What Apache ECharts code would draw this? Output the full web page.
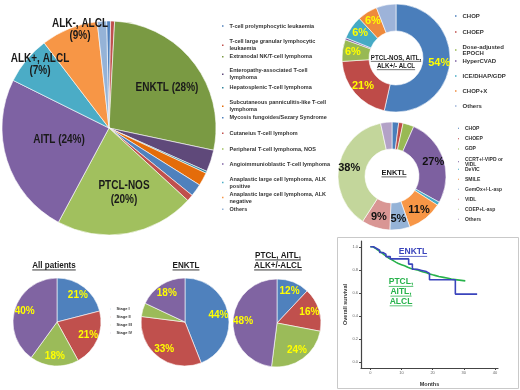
<!DOCTYPE html>
<html>
<head>
<meta charset="utf-8">
<script src="https://cdn.jsdelivr.net/npm/echarts@6/dist/echarts.min.js"></script>
<style>
html, body { margin: 0; padding: 0; background: #fff; }
#chart { width: 520px; height: 390px; }
</style>
</head>
<body>
<div id="chart"></div>
<script>
// ---- data ----
const subtypeNames = [
	'T-cell prolymphocytic leukaemia', 'T-cell large granular lymphocytic leukaemia',
	'Extranodal NK/T-cell lymphoma', 'Enteropathy-associated T-cell lymphoma',
	'Hepatosplenic T-cell lymphoma', 'Subcutaneous panniculitis-like T-cell lymphoma',
	'Mycosis fungoides/Sezary Syndrome', 'Cutaneius T-cell lymphom',
	'Peripheral T-cell lymphoma, NOS', 'Angioimmunioblastic T-cell lymphoma',
	'Anaplastic large cell lymphoma, ALK positive', 'Anaplastic large cell lymphoma, ALK negative',
	'Others'
];
const subtypeLegendText = [
	'T-cell prolymphocytic leukaemia', 'T-cell large granular lymphocytic\nleukaemia',
	'Extranodal NK/T-cell lymphoma', 'Enteropathy-associated T-cell\nlymphoma',
	'Hepatosplenic T-cell lymphoma', 'Subcutaneous panniculitis-like T-cell\nlymphoma',
	'Mycosis fungoides/Sezary Syndrome', 'Cutaneius T-cell lymphom',
	'Peripheral T-cell lymphoma, NOS', 'Angioimmunioblastic T-cell lymphoma',
	'Anaplastic large cell lymphoma, ALK\npositive', 'Anaplastic large cell lymphoma, ALK\nnegative',
	'Others'
];
const subtypeShare = [0.6, 0.6, 27.5, 3.3, 0.3, 2, 1.9, 1, 21, 24.5, 7.3, 8.6, 1.4];
const subtypeLabels = ['ENKTL (28%)', 'PTCL-NOS\n(20%)', 'AITL (24%)', 'ALK+, ALCL\n(7%)', 'ALK-, ALCL\n(9%)'];

const ptclRegimens = ['CHOP', 'CHOEP', 'Dose-adjusted EPOCH', 'HyperCVAD', 'ICE/DHAP/GDP', 'CHOP+X', 'Others'];
const ptclRegimenLegend = ['CHOP', 'CHOEP', 'Dose-adjusted\nEPOCH', 'HyperCVAD', 'ICE/DHAP/GDP', 'CHOP+X', 'Others'];
const ptclRegimenShare = [53.5, 20.5, 6.5, 0.6, 7, 6, 5.9];
const ptclRegimenLabels = ['54%', '21%', '6%', '', '6%', '6%', ''];

const enktlRegimens = ['CHOP', 'CHOEP', 'GDP', 'CCRT+/-VIPD or VIDL', 'DeVIC', 'SMILE', 'GemOx+/-L-asp', 'VIDL', 'COEP+L-asp', 'Others'];
const enktlRegimenLegend = ['CHOP', 'CHOEP', 'GDP', 'CCRT+/-VIPD or\nVIDL', 'DeVIC', 'SMILE', 'GemOx+/-L-asp', 'VIDL', 'COEP+L-asp', 'Others'];
const enktlRegimenShare = [2, 1.3, 3.3, 26.5, 1, 10.6, 6, 8.5, 37.5, 3.4];
const enktlRegimenLabels = ['', '', '', '27%', '', '11%', '5%', '9%', '38%', ''];

const stages = ['Stage I', 'Stage II', 'Stage III', 'Stage IV'];
const stageAll = [21, 21, 18, 40];
const stageENKTL = [44, 33, 5, 18];
const stagePTCL = [12, 16, 24, 48];
const stageLabelsAll = ['21%', '21%', '18%', '40%'];
const stageLabelsENKTL = ['44%', '33%', '', '18%'];
const stageLabelsPTCL = ['12%', '16%', '24%', '48%'];
const stageTitles = [['All patients'], ['ENKTL'], ['PTCL, AITL,', 'ALK+/-ALCL']];

const monthTicks = [0, 10, 20, 30, 40];
const survivalTicks = [0, 0.2, 0.4, 0.6, 0.8, 1.0];
// [month, survival] steps
const enktlSurvival = [[0, 1], [1, 0.985], [2, 0.97], [3, 0.95], [4, 0.935], [5, 0.915], [6.4, 0.895],
	[12.3, 0.85], [13.5, 0.805], [15, 0.795], [16.5, 0.785], [18, 0.77], [19, 0.715], [27.3, 0.59], [34.3, 0.59]];
const ptclSurvival = [[0, 1], [0.8, 0.99], [1.5, 0.975], [2.2, 0.96], [3, 0.945], [3.8, 0.93], [4.5, 0.915],
	[5.3, 0.9], [6, 0.89], [6.8, 0.878], [7.5, 0.865], [8.3, 0.855], [9, 0.845], [10, 0.835], [11, 0.822],
	[12, 0.812], [13, 0.805], [14, 0.8], [15, 0.79], [16, 0.782], [17, 0.775], [18, 0.765], [19, 0.757],
	[20, 0.75], [21, 0.742], [22, 0.735], [23.5, 0.728], [25, 0.72], [26, 0.705], [30.5, 0.705]];

// ---- styles ----
const SANS = '"Liberation Sans", Arial, sans-serif';
const subtypeColors = ['#4F81BD', '#C0504D', '#7A9A43', '#5F497A', '#31859C', '#E46C0A', '#4F81BD',
	'#C0504D', '#A1C05E', '#7E62A3', '#4BACC6', '#F79646', '#95B3D7'];
const ptclRegimenColors = ['#4A7EBB', '#BE4B48', '#98B954', '#7D60A0', '#46AAC5', '#EE8A3C', '#9DB3D9'];
const enktlRegimenColors = ['#4A7EBB', '#BE4B48', '#98B954', '#7D60A0', '#46AAC5', '#F79646', '#95B3D7',
	'#D99694', '#C3D69B', '#B3A2C7'];
const stageColors = ['#4F81BD', '#C0504D', '#9BBB59', '#8064A2'];

const measure = document.createElement('canvas').getContext('2d');

// text with a rule under each line; sx squeezes it the way the figure is squeezed
const underlined = (lines, cx, cy, size, lineH, color, sx) => {
	const font = `bold ${size}px ${SANS}`;
	measure.font = font;
	const out = [];
	lines.forEach((t, i) => {
		const y = cy + i * lineH;
		const w = measure.measureText(t).width * sx;
		out.push({
			type: 'text', x: cx, y, scaleX: sx, z: 100, silent: true,
			style: { text: t, font, fill: color, align: 'center', verticalAlign: 'middle', textAlign: 'center', textVerticalAlign: 'middle' }
		});
		out.push({
			type: 'line', z: 100, silent: true,
			shape: { x1: cx - w / 2, y1: y + size * 0.52, x2: cx + w / 2, y2: y + size * 0.52 },
			style: { stroke: color, lineWidth: Math.max(0.6, size / 11) }
		});
	});
	return out;
};

// one legend component per entry so the rows sit where they do in the figure
const legendColumn = (names, texts, colors, left, rows, fontSize, lineH, marker) =>
	names.map((name, i) => ({
		data: [{ name, itemStyle: { color: colors[i] } }],
		orient: 'vertical', left, top: rows[i] - lineH / 2,
		padding: 0, itemGap: 0, itemWidth: marker, itemHeight: marker,
		icon: 'rect', selectedMode: false,
		formatter: () => texts[i],
		textStyle: { fontSize, lineHeight: lineH, color: '#333', fontWeight: 'bold', fontFamily: SANS }
	}));

const pieSeries = (names, values, colors, center, radius, extra) => Object.assign({
	type: 'pie', center, radius, startAngle: 90, silent: true,
	data: names.map((name, i) => ({ name, value: values[i], itemStyle: { color: colors[i] } })),
	label: { show: false }, labelLine: { show: false },
	itemStyle: { borderColor: '#fff', borderWidth: 0.6 },
	emphasis: { disabled: true }
}, extra);

const labelOverlay = (names, values, labels, center, radius, color, size) => ({
	type: 'pie', center, radius, startAngle: 90, silent: true,
	data: names.map((name, i) => ({ name, value: values[i] })),
	itemStyle: { color: 'rgba(0,0,0,0)', borderWidth: 0 },
	labelLine: { show: false },
	label: {
		show: true, position: 'inside', formatter: (p) => labels[p.dataIndex],
		color, fontSize: size, fontWeight: 'bold', fontFamily: SANS
	},
	emphasis: { disabled: true }
});

const stageCenters = [[57, 322], [185, 322], [277, 323]];
const stageSets = [stageAll, stageENKTL, stagePTCL];
const stageLabelSets = [stageLabelsAll, stageLabelsENKTL, stageLabelsPTCL];
const stageTitlePos = [[54, 265], [186, 265], [278, 255]];

// top of the first line of each callout on the big pie
const bigLabelPos = [[167, 81], [124, 178], [59, 133], [40, 53], [80, 18]];
const bigLabelLineH = [14, 14.5, 14, 12, 12];

const graphics = [
	{ type: 'rect', z: 100, silent: true, shape: { x: 337.5, y: 237.5, width: 181, height: 151 }, style: { fill: 'none', stroke: '#c9c9c9', lineWidth: 1 } }
];
subtypeLabels.forEach((t, i) => {
	graphics.push({
		type: 'text', z: 100, silent: true, x: bigLabelPos[i][0], y: bigLabelPos[i][1], scaleX: 0.8,
		style: {
			text: t, font: `bold 12.5px ${SANS}`, fill: '#1a1a1a', lineHeight: bigLabelLineH[i],
			align: 'center', verticalAlign: 'top', textAlign: 'center', textVerticalAlign: 'top'
		}
	});
});

graphics.push(...underlined(['PTCL-NOS, AITL,', 'ALK+/- ALCL'], 396, 58, 6.5, 8.3, '#1a1a1a', 0.95));
graphics.push(...underlined(['ENKTL'], 394, 173, 7.5, 9, '#1a1a1a', 1));
stageTitles.forEach((lines, i) => {
	graphics.push(...underlined(lines, stageTitlePos[i][0], stageTitlePos[i][1], 9.5, 10, '#1a1a1a', 0.85));
});
graphics.push(...underlined(['ENKTL'], 413, 252, 8.5, 9.7, '#3A44BC', 1));
graphics.push(...underlined(['PTCL,', 'AITL,', 'ALCL'], 401, 282, 8.5, 9.7, '#27B24B', 1));

const series = [
	pieSeries(subtypeNames, subtypeShare, subtypeColors, [109, 128], 107, { startAngle: 91.3 }),
	pieSeries(ptclRegimens, ptclRegimenShare, ptclRegimenColors, [396, 58], [27, 54], {
		label: {
			show: true, position: 'inside', formatter: (p) => ptclRegimenLabels[p.dataIndex],
			color: '#FFFF00', fontSize: 11, fontWeight: 'bold', fontFamily: SANS
		}
	}),
	pieSeries(enktlRegimens, enktlRegimenShare, enktlRegimenColors, [392, 176], [27, 54], {
		label: {
			show: true, position: 'inside', formatter: (p) => enktlRegimenLabels[p.dataIndex],
			color: '#111', fontSize: 11, fontWeight: 'bold', fontFamily: SANS
		}
	})
];
stageSets.forEach((vals, i) => {
	series.push(pieSeries(stages, vals, stageColors, stageCenters[i], 44));
	series.push(labelOverlay(stages, vals, stageLabelSets[i], stageCenters[i], [18, 44], '#FFFF00', 10));
});
series.push({
	type: 'line', step: 'end', data: ptclSurvival, symbol: 'none', silent: true,
	lineStyle: { color: '#27B24B', width: 1.6 }
});
series.push({
	type: 'line', step: 'end', data: enktlSurvival, symbol: 'none', silent: true,
	lineStyle: { color: '#3A44BC', width: 1.6 }
});

const axisCommon = {
	type: 'value', nameLocation: 'middle',
	nameTextStyle: { fontSize: 5.5, fontWeight: 'bold', color: '#333', fontFamily: SANS },
	axisLine: { show: true, onZero: false, lineStyle: { color: '#444', width: 1.2 } },
	splitLine: { show: false }
};

const option = {
	animation: false,
	legend: [].concat(
		legendColumn(subtypeNames, subtypeLegendText, subtypeColors, 220,
			[26, 41.7, 56.7, 70.7, 87.7, 102.7, 117.7, 133.3, 149, 164, 179, 194, 209.3], 5.5, 7, 3.5),
		legendColumn(ptclRegimens, ptclRegimenLegend, ptclRegimenColors, 453,
			[16, 32, 47, 61, 76, 91, 106], 6, 6.2, 3.5),
		legendColumn(enktlRegimens, enktlRegimenLegend, enktlRegimenColors, 456,
			[128.3, 138.7, 149, 159.3, 169.3, 179.3, 189.3, 199.3, 209.3, 219.3], 5, 5, 3),
		legendColumn(stages, stages, stageColors, 108, [309, 317, 325, 333], 4, 4.5, 2.5)
	),
	grid: { left: 361, top: 241, width: 137, height: 127 },
	xAxis: Object.assign({}, axisCommon, {
		min: -3, max: 41, name: 'Months', nameGap: 13,
		axisTick: { show: true, length: 2, customValues: monthTicks, lineStyle: { color: '#444' } },
		axisLabel: { customValues: monthTicks, fontSize: 4, margin: 3, color: '#666', fontFamily: SANS }
	}),
	yAxis: Object.assign({}, axisCommon, {
		min: -0.05, max: 1.05, name: 'Overall survival', nameGap: 12,
		axisTick: { show: true, length: 2, customValues: survivalTicks, lineStyle: { color: '#444' } },
		axisLabel: {
			customValues: survivalTicks, fontSize: 4, margin: 3, color: '#666', fontFamily: SANS,
			formatter: (v) => v.toFixed(1)
		}
	}),
	graphic: graphics,
	series
};

const chart = echarts.init(document.getElementById('chart'), null, { renderer: 'canvas' });
chart.setOption(option);
</script>
</body>
</html>
